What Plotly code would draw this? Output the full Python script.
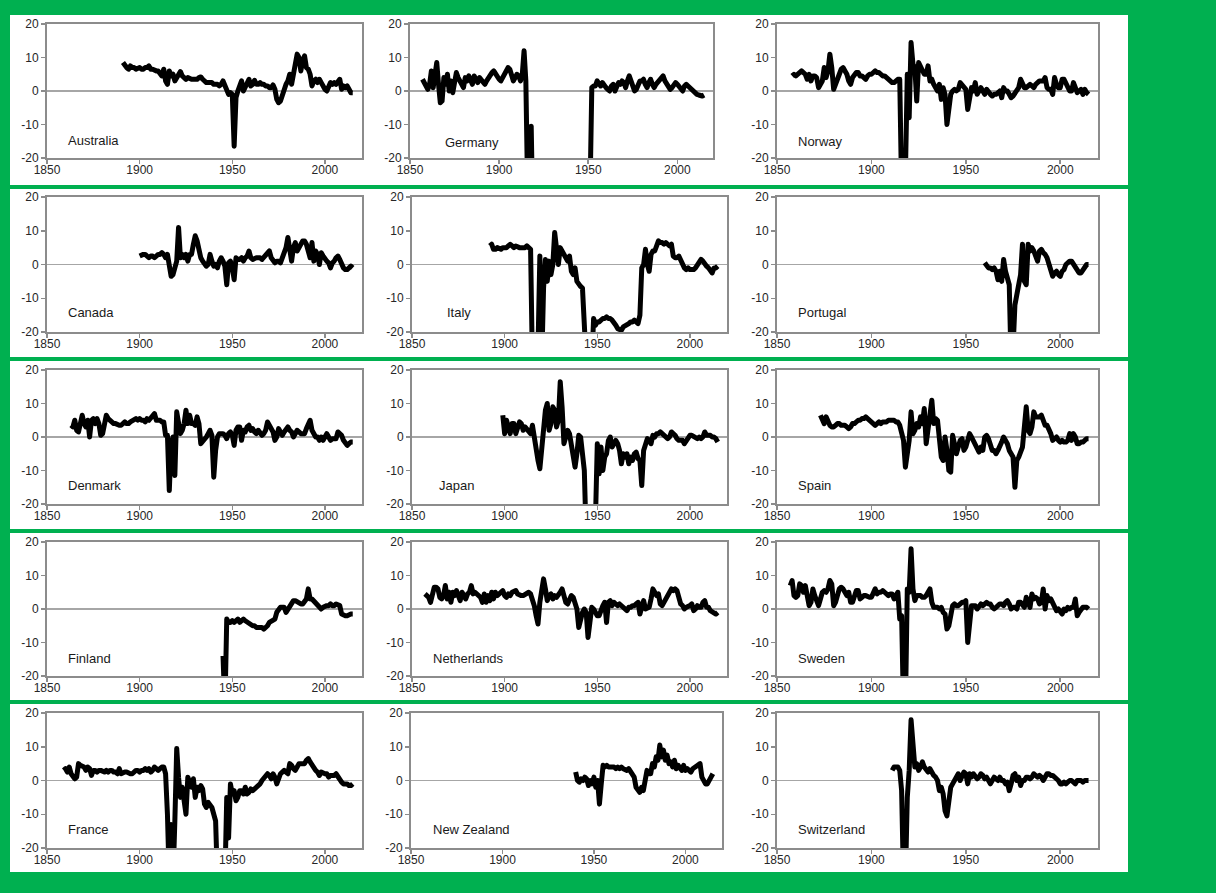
import plotly.graph_objects as go

# ---------------------------------------------------------------------------
# Annual series, one list per country (first year given separately).
# Values below -20 fall outside the axis range; None marks missing years.
# ---------------------------------------------------------------------------
AUSTRALIA_START = 1891
AUSTRALIA = [
    8.5, 7.5, 7, 6.5, 7.5, 7, 7, 6.5, 7,
    7, 6.5, 6.5, 7, 7, 7.5, 6.5, 6.5, 6, 6,
    6, 5, 4.5, 6.5, 3, 2, 6, 4.5, 5, 3,
    4, 4.5, 5.8, 4.5, 4, 3.5, 4, 3.5, 3.5, 3.5,
    3.5, 3.5, 4, 4.2, 3.5, 3, 2.5, 2.5, 2.5, 2.5,
    2, 2, 2, 1.5, 2, 3, 1.5, 0, -1, -0.5,
    -1, -16.5, -2, 0, 2, 3, 0, 1, 2.5, 3.5,
    1.5, 2, 3.2, 2, 2, 2.5, 2, 2, 1.5, 1.5,
    1, 1, 1.8, 0.5, -2.5, -3.5, -3, -1, 1, 2,
    3, 5, 2, 5, 9, 11, 10, 6, 9, 10.5,
    7, 6.5, 5, 1.5, 3, 3.5, 2.5, 3.5, 2.5, 1,
    0.5, 0, 1, 2.5, 2, 2.5, 2, 2.5, 3.5, 0.5,
    1.5, 1, 1.5, 0.5, -0.5, -0.5,
]

GERMANY_START = 1857
GERMANY = [
    3.5, 2.5, 1,
    0.5, 2, 6, 1, 5, 8.5, 2, -3.5, -3, 4,
    2, 5, 0, 3, -0.5, 4, 5.5, 4, 3, 2,
    1, 4, 3, 4.5, 3, 2, 4.5, 3.5, 2.5, 4,
    3.5, 3, 2, 3, 4, 4.5, 5.5, 6, 5, 4,
    3.5, 3, 4, 5, 6.5, 7, 6.5, 5, 3, 4,
    5, 4.5, 3, 5, 12, 3, -30, -25, -10.5, -40,
    None, None, None, None, None, None, None, None, None, None,
    None, None, None, None, None, None, None, None, None, None,
    None, None, None, None, None, None, None, None, None, None,
    None, -30, 1, 1.5, 1.5, 3, 2, 1.5, 2.5, 1.5,
    1, 0.5, 0, 1.5, 2, 0, 1, 2.5, 2, 3,
    2.5, 1, 3, 4.5, 3, 1.5, 0, 0.5, 2, 3,
    3, 3.5, 2, 1, 2.5, 3.5, 2, 1, 2, 2.5,
    3, 3.5, 4.5, 3, 2, 1, 0.5, 1, 2, 2.5,
    2, 1.5, 1, 0, 1.5, 2, 1.5, 1, 0, -0.5,
    -1, -1, -1.2, -1.5, -1.5, -1.2,
]

NORWAY_START = 1858
NORWAY = [
    4.5, 5,
    4.5, 5, 5.5, 6, 5.5, 5, 3.5, 5, 3, 4.5,
    4.5, 4, 1, 2, 3, 7, 4, 6, 11, 7,
    0.5, 2, 4, 5, 6.5, 7, 6, 5, 3, 2,
    4, 5, 5.5, 5.5, 4.5, 4.5, 4, 3.5, 4.5, 5,
    5, 5.5, 6, 5.5, 5.5, 5, 4.5, 4.5, 4, 3.5,
    3, 2.5, 2.5, 3, 3.5, 3.5, -30, -30, -25, 5,
    -8, 14.5, 8, 7, -3, 8.5, 7, 6, 5, 5,
    7.5, 3, 3.5, 2, 1, 0, 2, -2.5, 1, -1,
    -10, -4, -1, 0, 0.5, 0, 0.5, 2.5, 2, 1,
    0.5, -5.5, -3, 1, 0, 2.5, -1, 0.5, 1, 0,
    -1, 0.5, -0.5, -1, -1.5, -1, -1, -0.5, 0, -2,
    1, 0, 0, -1, -2, -1.5, -0.5, 0, 1, 3.5,
    2, 1, 1, 1.5, 2, 1.5, 1, 2, 2.5, 3,
    3, 3, 4, 1, 0.5, 0.5, -1, 4, 2, 1,
    1, 3.5, 3.5, 2.5, 1, 0, 0, 2.5, 1, -0.5,
    0, 0.5, -1, 0.5, -0.5, -1,
]

CANADA_START = 1900
CANADA = [
    2.5, 3, 3, 3, 2.5, 2, 2.5, 2.5, 2, 2.5,
    3, 3, 3.5, 3, 2, 3, -1, -3.5, -3, -1,
    1, 11, 2, 3, 2, 3, 1, 3, 3, 6,
    8.5, 7, 4, 2, 1, 0, -0.5, 0, 3, 1,
    -0.5, 0, -1, 1, 2, 1, -0.5, -6, 0.5, 1,
    -1, -4.5, 2, 1.5, 1.5, 2, 1, 2, 2.5, 4,
    2, 1.5, 2, 2, 2, 2, 1.5, 2, 3, 3.5,
    4, 2, 1, 0.5, 1, 1, 0.5, 2, 3, 5,
    8, 3, 1, 5, 6.5, 4, 5, 6, 7, 7,
    6, 4, 2, 6.5, 1, 4, 3, 0, 3.5, 2.5,
    1.5, 1, 0.5, -1, 0.5, 1, 2, 2.5, 1.5, 0,
    -1, -1.5, -1.5, -1, -0.5, -1,
]

ITALY_START = 1892
ITALY = [
    5.5, 6, 4.5, 4.5, 5, 4.5, 4.5, 5,
    5, 5, 5.5, 6, 5.5, 5, 5.5, 5, 5, 5,
    5, 5, 5.5, 5, 4.5, -30, -30, -30, -25, 2.5,
    -30, -7, 1.5, -5, 1, -3, 0, 9.5, 3, 0,
    5, 4, 3, 2, 1, 2.5, -2, -3, -1, -5,
    -6, -6.5, -7, -30, -50, -50, -50, -30, -16, -18,
    -17, -17, -16.5, -16, -16, -15.5, -16, -16, -16.5, -17,
    -18, -19, -19.5, -19.5, -18.5, -18, -17.5, -17.5, -17, -17,
    -16.5, -17, -17.5, -15, -1, 0, 4.5, 0, -2, 3,
    4, 4, 6, 7, 6.5, 6.5, 6, 6.5, 6, 5.5,
    6, 2.5, 2, 2, 2.5, 1, 0, -1, -1.5, -1,
    -1.5, -1.5, -1.5, -1, 0, 1, 1.5, 1, 0, -0.5,
    -1, -2, -2.5, -1, -1, -0.5,
]

PORTUGAL_START = 1960
PORTUGAL = [
    0.5, -0.5, -1, -1, -1.5, -1, -2, -4.5, -2, -5,
    1.5, -2, -5, -6, -30, -25, -12, -9, -6, -3,
    6, -5, -6, 6, 4, 5, 4, 2, 1, 4,
    4.5, 3.5, 3, 2, 0, -1, -3.5, -2.5, -2, -3,
    -3.5, -2, -1.5, 0, 0.5, 1, 1, 0, -1, -2,
    -2.5, -2.5, -1.5, -0.5, 0, 0,
]

DENMARK_START = 1863
DENMARK = [
    3.5, 3, 5, 2, 1.5, 4.5, 6.5,
    4, 3, 5, 0, 5, 5.5, 4, 5.5, 4, 0.5,
    1, 5, 6.5, 5.5, 5, 4.5, 4, 4, 3.5, 3.5,
    3.5, 4, 4.5, 4, 4, 4.5, 5, 5, 5.5, 5,
    5.5, 5, 5, 4.5, 5.5, 5, 5.5, 6, 7, 5,
    5, 5, 4.5, 4.5, 0.5, 0.5, -16, -2, 0, -11.5,
    7.5, 4, 1, 2, 4, 8, 4, 6.5, 4, 4,
    3.5, 6, 4, -2, -1.5, -1, 0, 1, 2, 0.5,
    -12, -4, 0, 1, 1, 1, 0.5, -0.5, 1, 1.5,
    0.5, -2.5, 2, 3, 3, -1, 2, 1.5, 3, 3.5,
    2, 2.5, 1.5, 1, 2, 1, 0.5, 1, 2, 4.5,
    3.5, 2, 1.5, -1, 0, 2.5, 1, 0.5, 1.5, 2,
    3, 2, 1.5, 0, 1, 2, 1.5, 1, 1, 1,
    2.5, 4, 5, 2, 0.5, 0, 0, -1, 0, -1,
    0, 1, 0, -1, -0.5, -0.5, -0.5, 1.5, 1, 0.5,
    -1, -2, -2.5, -2, -1.5, -1.5,
]

JAPAN_START = 1899
JAPAN = [
    6.5,
    1, 5, 3, 1, 4, 4, 1, 3, 4.5, 4,
    2, 3, 2.5, 2, 1, 3.5, -1, -3, -7, -9.5,
    -2, 5, 8, 10, 2, 4, 9, 8, 3, 5,
    16.5, 9, -2, 0, 2, 1, -3, -5, -9, -5,
    0.5, 0, -5, -10, -30, -40, -40, -40, -40, -25,
    -2, -11, -3, -10, -6, -5, -1, 0, -3, -2,
    -1, -2, -4, -8, -5, -6, -5, -8, -6, -7,
    -5, -4.5, -6.5, -7, -14.5, -4, -1.5, -0.5, -1, -2,
    0.5, 0, 1, 1, 1.5, 1, 1, 0, -0.5, 0,
    1.5, 1, 0.5, -0.5, -1, -1, -1, -2, -1, -0.5,
    0.5, 0.5, 0, -0.5, -0.5, 0, -0.5, 0, 1.5, 0.5,
    0.5, 0.5, 0, 0, -0.5, -1.5,
]

SPAIN_START = 1873
SPAIN = [
    6.5, 5, 4, 6, 4.5, 3.5, 3,
    3, 3.5, 4, 4, 3.5, 3.5, 3.5, 3, 2.5, 3,
    4, 4, 4.5, 5, 5, 5.5, 5.5, 6, 5.5, 5,
    4.5, 4, 3.5, 4, 4.5, 4, 4.5, 4.5, 4.5, 5,
    5, 5, 5, 4.5, 4.5, 3.5, 1.5, -1, -9, -4,
    -1, 7.5, 1, 2, 4, 3, 6, 4, 8.5, -2,
    3, 5, 11, 4, 5.5, 5, -3, -6, -7, 0,
    -4, -10, -10.5, 0.5, -2, -5, -3, -1, -0.5, -4,
    -3, 0, 1, 0, -1, -2, -3.5, -4.5, -3, -4,
    0, 0.5, -0.5, -3, -4, -4, -5, -4, -3, -1.5,
    0, -1, -2, -4, -5, -6, -15, -7, -6, -4,
    -3, 3, 9, 2, 1, 3, 7.5, 6, 6, 6,
    6.5, 5, 3.5, 3.5, 2.5, 1, -1, -0.5, 0, -1,
    -1.5, -1, -1.5, -1.5, -1, 1, -1, 1, 0, -2,
    -2, -1.5, -1.5, -1, -0.5, -0.5,
]

FINLAND_START = 1945
FINLAND = [
    -14, -30, -3, -4, -4,
    -3.5, -4, -3.5, -3, -4, -3.5, -3, -3.5, -4, -4.5,
    -4.5, -5, -5, -5.5, -5.5, -5.5, -5.5, -6, -5.5, -5,
    -4, -3.5, -3.5, -3, -1, 0, 0.5, 0.5, 0.5, -1,
    0, 1, 2, 2.5, 2.5, 2, 2, 1.5, 1.5, 2,
    3, 6, 3, 3, 2.5, 2, 1.5, 1, 0, 0.5,
    1, 1, 1, 1.5, 1, 1, 1.5, 1, 1, -1.5,
    -2, -2, -2, -1.5, -1.5, -1.5,
]

NETHERLANDS_START = 1857
NETHERLANDS = [
    4.5, 4, 3.5,
    2, 5, 6.5, 6.5, 6, 3.5, 3, 4, 7, 3,
    5, 2, 5, 4, 5.5, 4, 2.5, 5, 4, 3,
    4.5, 5, 7, 4.5, 5, 4.5, 4, 3.5, 2, 4.5,
    2, 4, 2.5, 5, 3, 5, 4, 4.5, 5, 5.5,
    4, 3.5, 4.5, 4, 5, 5.5, 5.5, 4.5, 4, 4,
    4, 4.5, 5, 5, 4.5, 3, 1, -2, -4.5, 2,
    5, 9, 6, 2.5, 4, 4.5, 3, 4, 3.5, 4,
    5, 6, 4, 2, 1.5, 3, 4, 3.5, 1, 0,
    -5.5, -3, -1, 0, -1, -8.5, -3, 0.5, 0, -1,
    -2, -2, 0, 1, 2, -4, 2, 2.5, 1, 2,
    1.5, 1, 1.5, 1, 0.5, 0, -0.5, 0.5, 0.5, 1,
    1, 1.5, 2, -1.5, 1, 2.5, 0, 0.5, 0.5, 3,
    6, 5, 4, 4.5, 1.5, 1, 2, 3, 4, 4.5,
    6, 5.5, 6, 5.5, 3, 1.5, 1, 0, 0.5, 1,
    1, 1.5, -0.5, 0, 1, 0.5, 0.5, 2, 2.5, 0.5,
    0.5, -0.5, -1, -1.5, -1.5, -1,
]

SWEDEN_START = 1857
SWEDEN = [
    7, 8.5, 4,
    3.5, 4, 7.5, 7, 5, 7, 3.5, 1, 2, 6,
    4, 2, 1, 3, 5, 5.5, 5, 6, 8.5, 7.5,
    1, 2, 5, 6, 6.5, 6, 5, 4, 5, 2,
    2, 4, 5.5, 5.5, 3, 3.5, 4, 4, 3.5, 3.5,
    3.5, 4.5, 6, 4.5, 5, 5, 5.5, 5, 4.5, 4,
    4.5, 4.5, 3, 4.5, 5, -3, -2, -30, -30, 6,
    5, 18, 6, 2.5, 4, 4, 4, 3.5, 3.5, 4,
    5, 6, 2, 0.5, 0.5, 0.5, 0, 0.5, -1, -1.5,
    -6, -5, -2, 1, 1.5, 1, 1, 1.5, 2, 2,
    2.5, -10, -2, 1, 1, 1, 0, 1, 1.5, 1,
    1.5, 2, 1.5, 1.5, 0.5, 0, 0.5, 1, 1.5, 1.5,
    1, 2, 2.5, 1.5, 0, 0.5, 0.5, 0, 2, 2,
    1, 0.5, 3.5, 2, 0.5, 4.5, 3, 3.5, 3, 1.5,
    2, 6, 0, 4, 2.5, 3, 2, 1, -0.5, 0,
    -1, -1.5, 0, -0.5, 0.5, 0, 0.5, 0.5, 3, -2,
    -1, 0, 0.5, 0.5, 0.5, 0,
]

FRANCE_START = 1859
FRANCE = [
    3,
    3.5, 2.5, 4, 2, 1, 0.5, 1, 5, 4.5, 4,
    4, 3, 4, 3.5, 1.5, 3, 3, 2.5, 3, 3,
    2.5, 2.5, 3, 2.5, 3, 3, 2.5, 2.5, 2, 3.5,
    2, 2.5, 2.5, 2.5, 2, 2, 2, 2.5, 3, 3,
    2.5, 3, 3, 3.5, 3, 3.5, 2.5, 3, 4, 3.5,
    3, 3.5, 4, 4, 2, -10, -30, -13, -30, -12,
    9.5, 1, -5, -2, -8, -10, 1, -1, -2, 0.5,
    -5, -2, -3, -1.5, -2.5, -7, -8, -6.5, -7, -8,
    -10, -12, -30, -30, -30, -30, -30, -5, -17, -1,
    -4, -3, -6, -5, -3, -3, -4, -2, -4, -3.5,
    -2.5, -3, -2.5, -2.5, -1.5, -1, 0, 0.5, 1, 2,
    1.5, 0.5, 2, 1, -1, 1, 2, 2.5, 3, 2.5,
    2, 5, 4.5, 3.5, 3, 4, 5, 5, 5, 5,
    6, 6.5, 5.5, 4.5, 3.5, 3, 2.5, 1.5, 2.5, 2,
    2, 2, 1, 1.5, 1.5, 1.5, 2, 1, 0, -0.5,
    -1, -1, -1, -1.5, -1.5, -1,
]

NEW_ZEALAND_START = 1940
NEW_ZEALAND = [
    2.5, 0, -0.5, 0.5, 0, 1, 0.5, -1.5, 0, -1,
    1, -2, 0, -7, -1, 4.5, 4, 4.5, 4, 4,
    4, 4, 3.5, 4, 3.5, 4, 3.5, 3, 3, 3.5,
    2.5, 2, 1, -2, -3, -3.5, -2, -3, 0, 3,
    2, 2, 5, 4, 7, 6, 10.5, 7, 9, 6,
    7.5, 5, 5.5, 4, 6, 3.5, 4.5, 4, 3, 4.5,
    3, 3.5, 3, 2.5, 3.5, 4, 4.5, 5, 5, 1,
    -0.5, -1, -1, 0.5, 1, 2,
]

SWITZERLAND_START = 1911
SWITZERLAND = [
    3, 4, 4, 4, 3, -3, -30, -30, -5,
    3, 18, 10, 4, 5, 3, 4, 5.5, 4, 3,
    2.5, 3.5, 2, 1.5, 1, 0, -3, -2, -4, -9,
    -10.5, -7, -2, -1, 0, 0.5, 2, 0, 1.5, 2.5,
    2, -1, 2, 1, 2, 1.5, 0.5, 1, 2, 1.5,
    0.5, 1, 0, -1, 0, 1, 0.5, 0, 1, 0,
    0, -1, -0.5, -3, -1, 1.5, 2, 0, 1, -1.5,
    0, 0, 1, 1, 0.5, 1, 2, 1.5, 1, 1.5,
    1, 0, 1.5, 2, 2, 1.5, 1.5, 1, 0.5, 0,
    -1, -1, -0.5, -1, -0.5, 0, 0, -0.5, -1, 0,
    0, 0, -0.5, 0, 0, 0,
]

# Panels in reading order (row by row, three per row)
COUNTRIES = [
    ("Australia", AUSTRALIA_START, AUSTRALIA),
    ("Germany", GERMANY_START, GERMANY),
    ("Norway", NORWAY_START, NORWAY),
    ("Canada", CANADA_START, CANADA),
    ("Italy", ITALY_START, ITALY),
    ("Portugal", PORTUGAL_START, PORTUGAL),
    ("Denmark", DENMARK_START, DENMARK),
    ("Japan", JAPAN_START, JAPAN),
    ("Spain", SPAIN_START, SPAIN),
    ("Finland", FINLAND_START, FINLAND),
    ("Netherlands", NETHERLANDS_START, NETHERLANDS),
    ("Sweden", SWEDEN_START, SWEDEN),
    ("France", FRANCE_START, FRANCE),
    ("New Zealand", NEW_ZEALAND_START, NEW_ZEALAND),
    ("Switzerland", SWITZERLAND_START, SWITZERLAND),
]

X_TICKS = [1850, 1900, 1950, 2000]
Y_TICKS = [-20, -10, 0, 10, 20]

# ---------------------------------------------------------------------------
# Page geometry (pixels)
# ---------------------------------------------------------------------------
W, H = 1216, 893
GREEN = "#00B050"
AXIS_GREY = "#8C8C8C"
ZERO_GREY = "#A6A6A6"
TEXT = "#262626"
FONT = "Liberation Sans, Arial, sans-serif"

ROW_Y = [(24, 158), (197, 332), (370, 504), (542, 676), (713, 848)]
PANEL_X = [
    [(47, 362), (410, 713), (777, 1098)],
    [(47, 362), (412, 727), (777, 1098)],
    [(47, 362), (412, 727), (777, 1098)],
    [(47, 362), (412, 727), (777, 1098)],
    [(47, 362), (411, 722), (777, 1098)],
]
LABEL_XY = [
    [(66, 140), (443, 142), (796, 141)],
    [(66, 313), (445, 313), (796, 313)],
    [(66, 485), (437, 485), (796, 485)],
    [(66, 658), (431, 658), (796, 658)],
    [(66, 829), (431, 829), (796, 829)],
]
SEPARATORS = [(185, 189), (357, 361), (529, 533), (700, 704)]


def px_x(v):
    return v / W


def px_y(v):
    return 1 - v / H


fig = go.Figure()
layout = {}
annotations = []

for i, (name, start, values) in enumerate(COUNTRIES):
    r, c = divmod(i, 3)
    n = i + 1
    suffix = "" if n == 1 else str(n)
    years = list(range(start, start + len(values)))
    fig.add_trace(go.Scatter(
        x=years, y=values, mode="lines",
        line=dict(color="black", width=5),
        connectgaps=False, hoverinfo="skip", showlegend=False,
        xaxis="x" + suffix, yaxis="y" + suffix,
    ))

    x0, x1 = PANEL_X[r][c]
    y0, y1 = ROW_Y[r]
    common = dict(
        showline=True, linecolor=AXIS_GREY, linewidth=2, mirror=True,
        ticks="outside", ticklen=4, tickwidth=1.5, tickcolor=AXIS_GREY,
        showgrid=False, fixedrange=True, automargin=False,
        tickfont=dict(family=FONT, size=12, color=TEXT),
    )
    layout["xaxis" + suffix] = dict(
        common, domain=[px_x(x0), px_x(x1)], range=[1850, 2020],
        tickvals=X_TICKS, ticktext=[str(t) for t in X_TICKS],
        zeroline=False, anchor="y" + suffix, ticklabelstandoff=-4,
    )
    layout["yaxis" + suffix] = dict(
        common, domain=[px_y(y1), px_y(y0)], range=[-20, 20],
        tickvals=Y_TICKS, ticktext=[str(t) for t in Y_TICKS],
        zeroline=True, zerolinecolor=ZERO_GREY, zerolinewidth=1.2,
        anchor="x" + suffix,
    )

    lx, ly = LABEL_XY[r][c]
    annotations.append(dict(
        text=name, x=px_x(lx), y=px_y(ly), xref="paper", yref="paper",
        xanchor="left", yanchor="middle", showarrow=False,
        font=dict(family=FONT, size=13, color="#1A1A1A"),
    ))

shapes = [
    dict(type="rect", xref="paper", yref="paper",
         x0=px_x(10), x1=px_x(1128), y0=px_y(872), y1=px_y(15),
         fillcolor="white", line=dict(width=0), layer="below"),
]
for top, bottom in SEPARATORS:
    shapes.append(dict(
        type="rect", xref="paper", yref="paper",
        x0=px_x(10), x1=px_x(1128), y0=px_y(bottom), y1=px_y(top),
        fillcolor=GREEN, line=dict(width=0), layer="below",
    ))

fig.update_layout(
    template="none",
    width=W, height=H, autosize=False,
    margin=dict(l=0, r=0, t=0, b=0, pad=0, autoexpand=False),
    paper_bgcolor=GREEN, plot_bgcolor="white",
    font=dict(family=FONT, size=12, color=TEXT),
    shapes=shapes, annotations=annotations,
    **layout,
)

fig.write_html(
    "out.html",
    config={"displayModeBar": False, "staticPlot": True},
    post_script="document.querySelectorAll('.scatterlayer .js-line')"
                ".forEach(function(p){p.style.strokeLinejoin='round';});",
)
